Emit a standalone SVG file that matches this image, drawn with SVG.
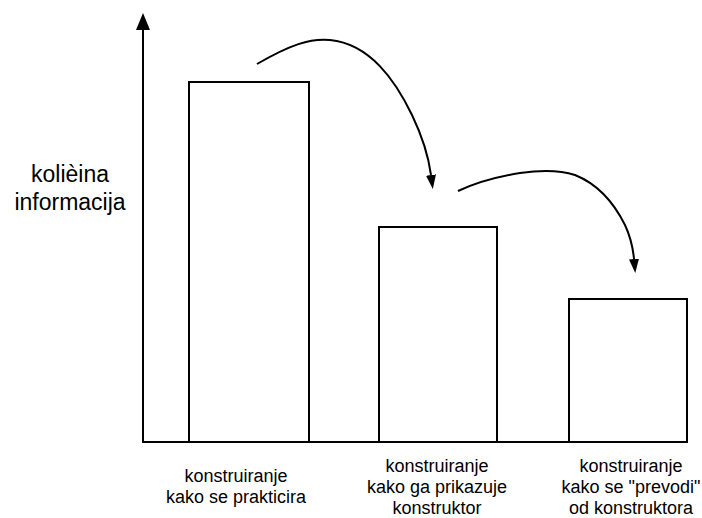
<svg xmlns="http://www.w3.org/2000/svg" width="702" height="518" viewBox="0 0 702 518">
<style>
.bar{fill:none;stroke:#000;stroke-width:2}
.ln{fill:none;stroke:#000;stroke-width:2}
.lbl{font-family:"Liberation Sans",Arial,sans-serif;font-size:18px;fill:#000;text-anchor:middle}
.ylbl{font-family:"Liberation Sans",Arial,sans-serif;font-size:23px;fill:#000;text-anchor:middle}
</style>
<defs>
<marker id="head" viewBox="0 -5 14 10" refX="0" refY="0" markerWidth="14" markerHeight="10" markerUnits="userSpaceOnUse" orient="auto">
<path d="M0,-5 L14,0 L0,5 z" fill="#000"/>
</marker>
<marker id="axhead" viewBox="0 -7 17 14" refX="0" refY="0" markerWidth="17" markerHeight="14" markerUnits="userSpaceOnUse" orient="auto">
<path d="M0,-7 L17,0 L0,7 z" fill="#000"/>
</marker>
</defs>
<rect width="702" height="518" fill="#fff"/>
<g id="axes">
<line class="ln" x1="143" y1="442" x2="143" y2="30" marker-end="url(#axhead)"/>
<line class="ln" x1="142" y1="442" x2="688" y2="442"/>
</g>
<g id="bar1"><rect class="bar" x="189" y="82" width="120" height="360"/></g>
<g id="bar2"><rect class="bar" x="379" y="227" width="118" height="215"/></g>
<g id="bar3"><rect class="bar" x="569" y="299" width="118" height="143"/></g>
<g id="connectors">
<path class="ln" d="M257,64 C290,45 310,38 330,40 C370,44 395,80 412,115 C424,140 429,160 431,175" marker-end="url(#head)"/>
<path class="ln" d="M458,191 C475,183 495,177 520,173 C540,170 560,170 575,175 C600,185 615,205 625,225 C631,238 633,248 634,259" marker-end="url(#head)"/>
</g>
<g id="ylabel">
<text class="ylbl" x="70" y="182">kolièina</text>
<text class="ylbl" x="70" y="210">informacija</text>
</g>
<g id="label1">
<text class="lbl" x="236" y="482">konstruiranje</text>
<text class="lbl" x="236" y="503">kako se prakticira</text>
</g>
<g id="label2">
<text class="lbl" x="437" y="472">konstruiranje</text>
<text class="lbl" x="437" y="493">kako ga prikazuje</text>
<text class="lbl" x="437" y="514">konstruktor</text>
</g>
<g id="label3">
<text class="lbl" x="631" y="472">konstruiranje</text>
<text class="lbl" x="631" y="493">kako se "prevodi"</text>
<text class="lbl" x="631" y="514">od konstruktora</text>
</g>
</svg>
